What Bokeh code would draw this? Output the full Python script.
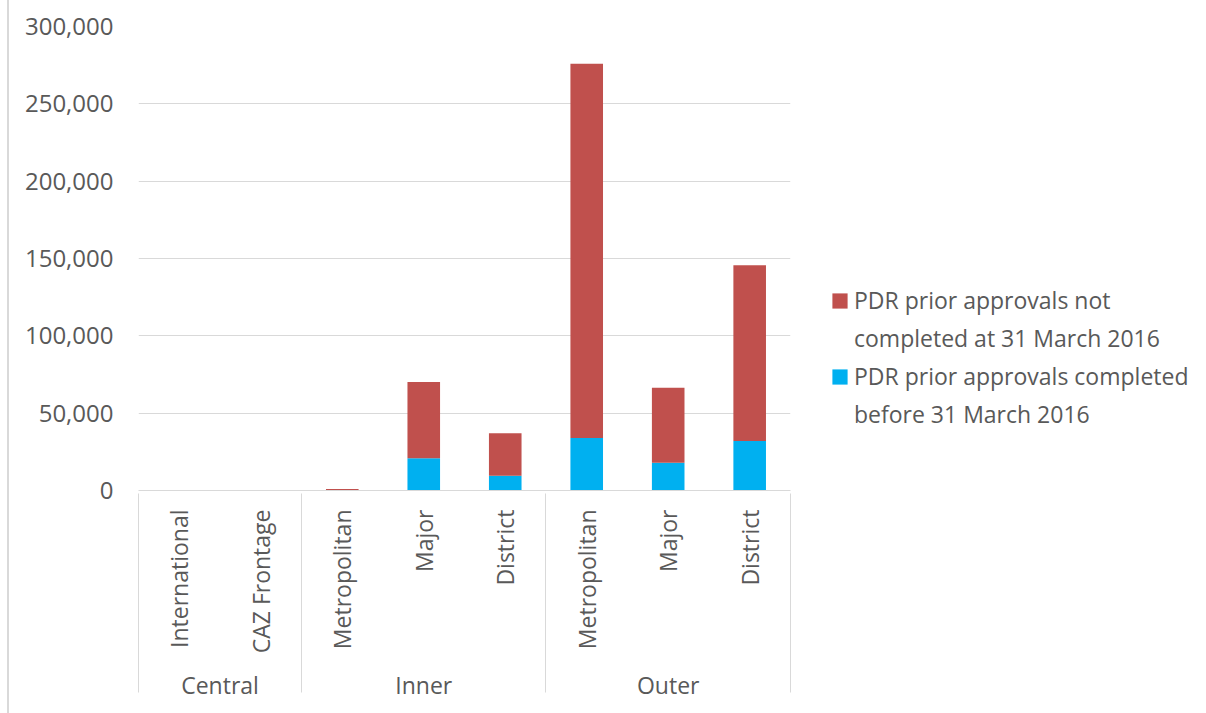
import math
from bokeh.plotting import figure
from bokeh.models import (FactorRange, Range1d, NumeralTickFormatter, FixedTicker,
                          Legend, LegendItem, ColumnDataSource)
from bokeh.embed import file_html
from bokeh.resources import INLINE

# ---- data ----
groups = ["Central", "Central", "Inner", "Inner", "Inner", "Outer", "Outer", "Outer"]
subcats = ["International", "CAZ Frontage", "Metropolitan", "Major", "District",
           "Metropolitan", "Major", "District"]
completed = [0, 0, 100, 20800, 9600, 34000, 17900, 32000]
not_completed = [0, 0, 900, 49300, 27400, 241900, 48600, 113600]
series_completed = "PDR prior approvals completed\nbefore 31 March 2016"
series_not_completed = "PDR prior approvals not\ncompleted at 31 March 2016"
color_completed = "#00B0F0"
color_not_completed = "#C0504D"
y_ticks = [0, 50000, 100000, 150000, 200000, 250000, 300000]

FONT = "Open Sans"
TXT = "#595959"
GRID = "#D9D9D9"

factors = list(zip(groups, subcats))
source = ColumnDataSource(dict(x=factors, completed=completed, not_completed=not_completed))

# empty spacer groups at both ends (trimmed away by negative padding) so that the
# axis draws its group separators at the left and right edges of the plot too
all_factors = [("", "")] + factors + [(" ", "")]
n = len(all_factors)
x_range = FactorRange(*all_factors, group_padding=0, factor_padding=0,
                      range_padding=-(0.999 * 2) / n, range_padding_units="percent")

p = figure(x_range=x_range, y_range=Range1d(0, 300000),
           frame_width=652, frame_height=464,
           output_backend="svg", toolbar_location=None,
           min_border_left=138, min_border_right=0, min_border_top=26, min_border_bottom=223)
p.border_fill_color = None
p.background_fill_color = None
p.styles = {"background": "linear-gradient(to right, #ffffff 0px, #ffffff 7px, #d9d9d9 7px, #d9d9d9 9px, #ffffff 9px, #ffffff 100%)"}

rs = p.vbar_stack(["completed", "not_completed"], x="x", width=0.4, source=source,
                  color=[color_completed, color_not_completed], line_color=None)
# glyph-less renderer used for the wrapped second line of each legend entry
blank = p.vbar(x=[], top=[], width=0.4, fill_alpha=0, line_alpha=0)

p.outline_line_color = None
p.xgrid.grid_line_color = None
p.ygrid.grid_line_color = GRID
p.ygrid.ticker = FixedTicker(ticks=y_ticks)

ya = p.yaxis[0]
ya.ticker = FixedTicker(ticks=y_ticks)
ya.formatter = NumeralTickFormatter(format="0,0")
ya.axis_line_color = None
ya.major_tick_line_color = None
ya.minor_tick_line_color = None
ya.major_label_standoff = 19
ya.major_label_text_font = FONT
ya.major_label_text_font_size = "24px"
ya.major_label_text_color = TXT

xa = p.xaxis[0]
xa.axis_line_color = GRID
xa.major_tick_line_color = None
xa.minor_tick_line_color = None
xa.major_label_orientation = math.pi / 2
xa.major_label_standoff = 13
xa.major_label_text_font = FONT
xa.major_label_text_font_size = "23px"
xa.major_label_text_color = TXT
xa.group_text_font = FONT
xa.group_text_font_size = "23px"
xa.group_text_color = TXT
xa.group_text_font_style = "normal"
xa.separator_line_color = GRID
xa.separator_line_width = 1

items = []
for name, r in [(series_not_completed, rs[1]), (series_completed, rs[0])]:
    first, second = name.split("\n")
    items.append(LegendItem(label=first, renderers=[r]))
    items.append(LegendItem(label=second, renderers=[blank]))

legend = Legend(items=items, location=(40, 60), orientation="vertical")
legend.border_line_color = None
legend.background_fill_color = None
legend.padding = 0
legend.margin = 0
legend.spacing = 6
legend.glyph_width = 19
legend.glyph_height = 19
legend.label_standoff = 5
legend.label_text_font = FONT
legend.label_text_font_size = "23px"
legend.label_text_color = TXT
p.add_layout(legend, "right")

open("out.html", "w").write(file_html(p, INLINE))
